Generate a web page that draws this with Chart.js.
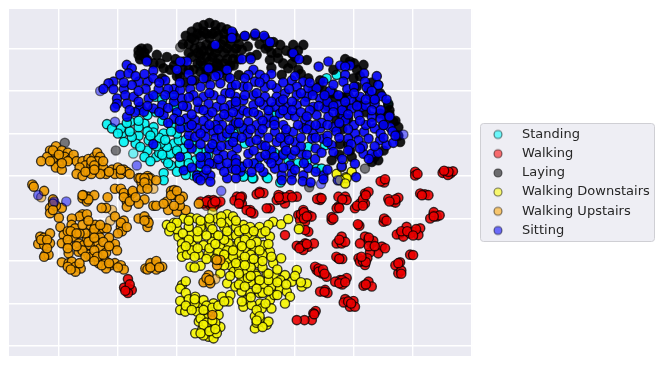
<!DOCTYPE html>
<html>
<head>
<meta charset="utf-8">
<style>body { margin: 0; background: #fff; } canvas { display: block; }</style>
<script src="https://cdn.jsdelivr.net/npm/chart.js@4"></script>
</head>
<body>
<canvas id="chart" width="664" height="365"></canvas>
<script>
var activities = ['Standing', 'Walking', 'Laying', 'Walking Downstairs', 'Walking Upstairs', 'Sitting'];
var xTicks = [-60, -40, -20, 0, 20, 40, 60, 80];
var yTicks = [60, 40, 20, 0, -20, -40, -60, -80];

var standing = [[-43.7,24.4],[-42,22.4],[-38.6,20],[-35.8,25.5],[-33,19],[-38,16],[-34,15.3],[-30,12],[-27,9],[-23.9,8],[-24.5,1.4],[-22,5],[-20,10.5],[-17,2.7],[-9.4,9.8],[-7.6,13.7],[-13.8,7.4],[-31,24.7],[-27.9,23],[-24.5,20],[-21,15.3],[-21.7,38],[-27.3,37.3],[-30,28.7],[-22.3,10.5],[-16.6,9],[-12,4.3],[-14.4,0.3],[-3,18.4],[-0.8,20],[-12,52],[-23.4,13.7],[-25.6,15.3],[-19.4,16.8],[-17.7,12.9],[-11,11.3],[-29.6,16.8],[-32.4,13.7],[-35.3,18.4],[-39,22.4],[-26,18],[-28,20.5],[-30,21],[-33,23],[-20,20],[-18,23],[-15,16],[-13,12],[-25,26],[-22,24],[-27,30],[-20,31],[-26,11],[-19,6],[1.9,22.4],[3,15.3],[11.5,31],[13.2,28.7],[16,10.5],[17.8,7.4],[24.5,13.7],[30.2,14.5],[27.3,3.5],[29,3.5],[3,0.3],[5.9,-1],[10.4,-0.5],[1.9,4.3],[34.1,47.6],[30.7,46],[48.2,42.8],[51.6,34],[11.5,12],[15,-3],[10.7,-1],[5.6,-1],[2.5,-0.3],[-24.5,-2],[-17,0.5],[-13,0],[7,6],[13,11],[21,6],[24,7],[-40,20],[-36,21],[-37,25],[-33,26],[-29,19],[-27,14],[-31,9],[-25,10],[-29,7],[-23,6],[-20,2],[-16,6],[-11,7],[-20,12],[-24,17],[-22,21],[-17,17],[-33,31],[-25,36],[-21,33],[-19,26]];

var walking = [[-37,-53.6],[-36.4,-52.9],[-37.9,-52.5],[-35.3,-53.6],[-36.6,-55],[-36.6,-48.5],[-11,-12.9],[-9.3,-11.3],[-7.6,-11.3],[-6.4,-12.9],[-8.7,-13.7],[-12,-12],[-5.3,-12],[-7.6,-14.4],[0.3,-9.7],[-0.5,-11.5],[2,-9.7],[2,-13],[1.4,-11.3],[8,-7.4],[7,-8.6],[9.3,-8],[4.8,-16],[5.9,-17.6],[3.6,-16],[11.5,-15.2],[10.4,-15.2],[15.5,-9.7],[13.8,-11.3],[16.6,-12.9],[16,-10.5],[18.3,-8.9],[20.6,-9.7],[14.4,-8.9],[22.8,-16],[21.1,-18.4],[24.5,-18.4],[21.7,-20.7],[23.4,-21.5],[25.6,-19.1],[24.5,-26.2],[23.4,-25.4],[16.6,-27.8],[20.6,-32.8],[23.4,-31.7],[24.5,-33.3],[22.8,-34.8],[26.4,-31.7],[22,-33],[28.5,-10.2],[28.5,-11.3],[27.5,-10.8],[34.7,-9.7],[37,-9.7],[37.5,-11.3],[34.7,-14.4],[34.1,-15.2],[32.4,-20.7],[32.4,-19.3],[35.8,-28.5],[34.1,-31.7],[35.8,-31.7],[37,-31],[34.7,-38.7],[34,-38],[36,-39],[40.3,-15.2],[42,-12.9],[43.7,-12.9],[43.7,-8.2],[44.9,-7.4],[41.8,-23.4],[41.3,-22.7],[50,-21.5],[50.2,-20],[50.2,-3],[49,-2.5],[53.3,-12],[51.6,-10.8],[55,-10.2],[54,-12.5],[64,-8.6],[62.4,-8.2],[65.2,-9],[66.9,-18.4],[68,-19],[65.8,-20],[67,-17],[69,-18.5],[43.7,-28.5],[46,-31.7],[44.9,-30],[42,-31.7],[46.5,-30.5],[49.4,-33.2],[48.2,-36.4],[50.5,-34],[45.4,-35.9],[41.5,-38.7],[43.7,-41.9],[42,-40.3],[44.5,-38.7],[55.6,-27],[54.5,-27.5],[56.7,-28.5],[57.8,-23.9],[60,-26.2],[62.4,-24.6],[61.8,-27.8],[59,-27],[59,-37],[60,-37.2],[55.6,-40.6],[55,-45.8],[54,-42],[56,-44.5],[27.3,-44.2],[29,-45.8],[30.7,-47.4],[26.8,-42.7],[28,-43.5],[35.2,-49],[37.5,-48],[33.6,-49.7],[36,-51],[30.2,-53.6],[28.5,-54.4],[31,-55],[43.2,-51.6],[44.9,-49.7],[46,-52],[37,-57.9],[39.8,-58.8],[38.6,-61.5],[40.3,-61.5],[36.5,-59.5],[27,-63.5],[26.2,-64.6],[25.7,-67.8],[23.2,-67.8],[20.6,-67.8],[71.4,1.9],[72.6,1.2],[70,1.5],[73.5,2.2],[71.8,0.5],[60.7,2],[60.7,0.3],[61.5,1],[50.5,-1.5],[-36,-51],[-37.5,-54],[-9,-12.5],[-10,-12],[-8,-13],[-7,-12],[1.5,-10],[1,-13],[5,-17],[8,-8],[15,-11],[17,-10],[14.5,-10],[19,-10],[22,-18],[23,-17],[23,-20],[24,-19],[22.5,-33],[21.5,-34],[24,-32],[29,-10.5],[36,-11],[35,-15],[33,-20],[35,-30],[35,-39],[41,-14],[43,-11],[44,-9],[43,-14],[51,-21],[54,-11],[52,-12],[63,-9],[67,-19],[45,-29],[45,-33],[47,-33],[43,-40],[44,-40.5],[42.5,-38],[56,-26],[58,-26],[61,-25],[60,-28],[56,-46],[55,-41],[28,-45],[29.5,-44],[30,-46],[36,-49],[35,-50.5],[37,-50],[30,-54.5],[44,-51],[38,-59],[39,-60],[26.5,-65],[72,2],[70.5,2.5]];

var laying = [[-17,66],[-15,68],[-13,70],[-11,71],[-9,72],[-7,71],[-5,70],[-3,69],[-1,67],[-16,62],[-14,64],[-12,66],[-10,67],[-8,67],[-6,66],[-4,64],[-2,62],[0,60],[-14,60],[-12,61],[-10,62],[-8,61],[-6,60],[-4,58],[-12,57],[-10,56],[-8,56],[-6,55],[-4,53],[-2,52],[-13,53],[-11,52],[-9,51],[-7,50],[-32,60],[-33,57],[-31,58],[-32.5,55],[-26.8,57],[-23.4,56],[-20.5,55],[-24.5,50.7],[-22.3,50],[-17.7,53.9],[-14.4,50],[-17,44],[-12,49],[-6.4,53],[-6.4,49],[-0.8,52],[1,47.5],[-30,54.6],[-25.6,53],[-20,47],[-10,46],[-3,47],[-14,45],[-25,46],[3,65.7],[6.4,66],[9.8,65],[12.7,63],[15,61.7],[19.4,61.7],[22.8,61.7],[14.3,55.4],[11.5,54.6],[7,57],[4.8,56],[2,59.4],[18.9,57.8],[24,54.6],[21.1,50],[17.7,50.7],[15.5,47.6],[24.5,46],[28.5,45],[38.6,53.9],[43.2,52.3],[39.8,46],[40.9,42],[44.9,40.5],[41,50],[48.8,39],[51.6,33.4],[35.2,29.4],[37.5,32.6],[33,35.7],[30.2,37.3],[48.8,29.4],[51,27.9],[53.3,25.5],[55,23],[55.6,16],[48.2,7.4],[46,6.6],[38.6,12],[35.2,15],[32.4,7.4],[39.2,9],[52,31],[50,24],[34,26],[36,22],[12,58],[10,60],[20,56],[38,38],[26,40],[41,35],[-18,62],[-16,58],[-15,56],[-13,58],[-11,59],[-9,59],[-7,58],[-5,62],[-3,60],[-1,58],[1,62],[-9,65],[-11,68],[-7,68],[-4,67],[-2,65],[0,65],[-13,67],[-15,65],[-12,54],[-9,54],[-6,52],[-3,55],[-1,55],[1,55],[-16,50],[-10,49],[-4,50],[-33,59],[-31,56],[-30,60],[-28,53],[-21,52],[-18,50],[-19,47],[4,61],[8,62],[11,61],[14,58],[17,59],[21,59],[16,53],[19,53],[12,51],[22,48],[33,50],[37,55],[40,53],[42,47],[46,44],[47,36],[44,30],[52,29],[54,26],[55,19],[47,9],[50,12],[38,15],[35,10],[28,42],[30,40],[33,39],[36,37],[31,33],[38,27]];

var downstairs = [[-23.4,-23],[-21,-22],[-22.6,-26],[-19.5,-28.5],[-17.7,-20],[-15.4,-19.6],[-13.2,-20],[-10.4,-21.5],[-8.7,-23],[-6.4,-20],[-3,-18],[-2.5,-21.5],[-5,-19],[-18.3,-31.7],[-15.4,-27.8],[-11.5,-26],[-7,-27.5],[-2.5,-28.5],[-0.2,-33],[-18.3,-34.8],[-14.9,-32.5],[-11,-32.5],[-8.1,-30.9],[-5.3,-33.3],[-2.5,-31.7],[-18.3,-38],[-16.6,-37],[-12.6,-36.9],[-9.3,-36.4],[-15.4,-42.7],[-12,-42.2],[-5.3,-45.8],[-1.9,-42],[0.9,-39.5],[-0.8,-45],[-3,-50.5],[-0.2,-52],[-18.3,-51.3],[-18.9,-53],[-17,-55],[-17,-49.5],[-18.9,-58.8],[-18.9,-63],[-16,-61.5],[-16,-58],[-13.8,-56.8],[-17.2,-63.8],[-12,-61.5],[-13.2,-63.8],[-11,-58.4],[-9.4,-63.8],[-7.6,-59.9],[-5.9,-65.4],[-4.7,-56.8],[-1.9,-56],[-2.5,-59],[-9.8,-67],[-12.6,-68.5],[-8.7,-71],[-13.8,-74],[-11.5,-72.5],[-9.3,-75.6],[-7.6,-76.4],[-5.3,-71],[-12,-67],[-14,-60],[-10,-61],[-7,-69],[-11,-75],[-6.5,-74],[2.5,-23],[4.8,-24],[8,-24],[5.3,-28.5],[11.5,-28.5],[8.7,-27],[12.6,-21.5],[15.3,-22.7],[17.7,-20.2],[21.3,-25],[11,-23],[3,-34],[6.4,-34],[9.3,-32.5],[11.5,-35.6],[15.3,-38.7],[12.6,-41],[7.6,-41],[4.8,-40.3],[2.5,-41],[10.4,-45.8],[6.4,-45.8],[3.6,-45],[1.9,-49],[7,-50.5],[12,-52],[9.3,-51.3],[16.6,-46.6],[13.2,-47.4],[18.9,-49.7],[20.6,-44.2],[22.3,-52],[24,-50.5],[4.8,-55],[1.9,-54.4],[8,-55],[14.9,-52.9],[17.2,-54.4],[18.3,-56.8],[11.5,-58.4],[16.6,-60],[3.6,-58.4],[8.1,-60],[2.5,-61.5],[5.3,-60.7],[8.7,-62.3],[12,-62.3],[6.4,-66],[8.7,-68.5],[10.4,-70],[6.4,-71.7],[11,-68.5],[7,-69],[36.4,7.4],[34.1,1],[37.3,-0.5],[39.2,2],[35.8,4.3],[37.5,-1],[35.2,-2],[37,-3.5],[-12,-24],[-8,-25],[-4,-24],[0,-24],[4,-27],[0,-28],[-4,-30],[1,-31],[-13,-29],[-16,-24],[-20,-25],[-15,-35],[-6,-36],[-3,-35],[1,-36],[5,-37],[9,-37],[-7,-39],[-3,-39],[1,-43],[5,-43],[9,-43],[3,-38],[7,-47],[11,-49],[15,-49],[5,-50],[9,-55],[13,-56],[1,-46],[4,-48],[14,-44],[-4,-42],[7,-31],[3,-30],[-1,-38],[-20,-22],[-22,-24],[-16,-21],[-12,-21],[-9,-20],[-5,-22],[-1,-19],[0,-21],[-18,-27],[-16,-30],[-13,-26],[-10,-28],[-6,-28],[-3,-26],[1,-26],[3,-25],[6,-26],[10,-26],[-17,-33],[-13,-34],[-9,-34],[-7,-32],[-4,-37],[-1,-35],[2,-33],[5,-32],[8,-35],[11,-32],[-14,-38],[-10,-39],[-14,-43],[0,-41],[3,-42],[6,-39],[9,-40],[12,-38],[-2,-47],[1,-51],[5,-47],[8,-49],[11,-46],[14,-50],[17,-51],[20,-47],[22,-50],[3,-52],[7,-53],[11,-54],[14,-56],[5,-57],[10,-60],[2,-59],[7,-63],[-17,-61],[-15,-63],[-14,-58],[-11,-63],[-8,-62],[-6,-61],[-4,-59],[-10,-69],[-8,-68],[-11,-70],[-12,-74],[-9,-73],[-7,-72],[8,-66],[9,-71],[7,-68]];

var upstairs = [[-63,12],[-61,14],[-62,10],[-59,12],[-57,11],[-64,9],[-60,8],[-58,8],[-66,7],[-62,7],[-60,5],[-58,9],[-56,8],[-55,10],[-54,7],[-61,4],[-59,3],[-52,7],[-50,8],[-48,9],[-47,11],[-46,9],[-47,7],[-51,5],[-49,5],[-53,4],[-54,1],[-52,0],[-50,2],[-47,3],[-45,4],[-44,1],[-46,1],[-49,1],[-42,3],[-40,4],[-41,1],[-39,1],[-38,3],[-37,2],[-36,1],[-33,-1],[-32,-3],[-30,0],[-29,-1],[-69,-4],[-68.5,-5],[-65,-7],[-62,-11],[-63,-15],[-63,-17.5],[-59,-15],[-61,-14],[-60,-19.6],[-52,-10.5],[-50,-9.7],[-50.5,-12],[-48,-9],[-51.7,-9],[-43.5,-10],[-44,-15],[-45.5,-15],[-41,-6],[-39,-6],[-36,-9],[-37,-12],[-38,-8],[-35,-8],[-37,-14.5],[-35,-7],[-31,-11],[-33,-13],[-32.4,-1],[-29.6,-1],[-32,-6],[-30,-3.5],[-27,-2],[-28,-14],[-27,-14],[-38,-21],[-41,-19],[-39,-24],[-38.6,-26],[-40,-27],[-33,-20],[-31,-19],[-30,-21],[-30,-24],[-29.6,-22],[-23.4,-12],[-22,-7],[-21,-6.6],[-18,-9.7],[-20,-16.8],[-23,-16],[-17,-16],[-19,-14],[-24.5,-13],[-20.5,-9],[-12.6,-13],[-52,-18],[-53,-19],[-50.5,-18],[-55.6,-20],[-59.5,-24],[-55.7,-23],[-54.5,-24.6],[-58.4,-27.8],[-59,-31.6],[-56.7,-32.5],[-55,-28.6],[-53.3,-31.7],[-56.7,-36.4],[-53.3,-35.6],[-51.6,-32.5],[-50.5,-29.3],[-49.4,-23],[-47.7,-23],[-46.5,-26],[-48.8,-27],[-51,-27],[-44.9,-24.6],[-43.8,-24.6],[-46,-29],[-47.4,-31],[-49.6,-32.5],[-50,-37],[-49,-38],[-46,-34],[-42.6,-32.5],[-41,-32],[-40.3,-35],[-66.3,-28.5],[-65,-29],[-67,-32],[-65,-32.5],[-63,-31.6],[-63,-27],[-64.6,-37],[-63.5,-37],[-65,-38],[-59,-40.6],[-56.7,-41],[-55.6,-40.3],[-54.4,-42.7],[-52.6,-43.5],[-54.4,-45],[-57,-42.7],[-46.5,-41],[-44,-40.3],[-42.6,-42],[-41,-41],[-39,-42],[-44,-43.5],[-45.5,-42],[-38,-44],[-30.7,-43.5],[-29,-41],[-27,-42],[-25,-42.7],[-27,-44],[-30,-44],[-9.8,-49],[-11,-50],[-9.3,-46.6],[-8.7,-50.5],[-6.4,-42],[-5.3,-39.5],[-6.5,-39.5],[-8,-65.4],[-53,-27],[-57,-26],[-48,-35],[-52,-35],[-44,-36],[-47,-38],[-43,-29],[-62,12],[-60,10],[-63,7],[-57,7],[-59,6],[-49,7],[-48,5],[-45,7],[-51,2],[-48,3],[-43,2],[-39,3],[-31,-1],[-50,-11],[-52,-9],[-38,-10],[-36,-12],[-34,-10],[-31,-3],[-30,-6],[-62,-13],[-62,-16],[-22,-9],[-20,-7],[-19,-11],[-21,-14],[-56,-26],[-54,-27],[-52,-23],[-50,-21],[-48,-25],[-46,-23],[-57,-30],[-54,-33],[-50,-31],[-48,-29],[-45,-31],[-43,-33],[-57,-34],[-51,-38],[-48,-40],[-45,-37],[-66,-30],[-64,-30],[-64,-34],[-56,-44],[-53,-41],[-43,-41],[-40,-43],[-29,-43],[-27,-40],[-26,-43],[-31,-21],[-39,-22],[-37,-24],[-10,-48],[-9,-49]];

var sitting = [[3,66],[6.5,67],[9.5,66],[11.5,63],[19.4,57.8],[21.4,55],[-7,61.7],[-1.4,68],[-1.4,65],[2,55],[5,55],[31.3,53.9],[-37,52.3],[-35.3,50.7],[-30.2,53.9],[-16.6,53.9],[-18.9,53.9],[-20,50],[-28,49.6],[-16,48],[-9.3,50.7],[-3,50],[-5.9,47.6],[5.9,50],[8.1,47.6],[12,48],[9.8,46],[4.2,47.6],[3,46],[6.4,44.4],[28,51.5],[35.3,52],[38.6,52],[37,51.5],[37,47.6],[43.4,48.3],[47.7,47],[-39.2,47.6],[-36.4,48.3],[-33,44.4],[-29.9,44.4],[-41.5,44.4],[-43.2,43.6],[-44.9,41],[-41.5,40.8],[-38,41],[-35.3,42.8],[-30.6,41],[-26.2,41],[-24,45],[-21,41],[-28,46],[-40.3,36.5],[-37.5,38],[-40.3,34],[-41,32.3],[-34.7,37.3],[-32.4,32.6],[-31.2,30.2],[-29.6,36.5],[-28,31.8],[-25,33.4],[-36.9,27.9],[-34.2,30],[-21,35],[-18.9,40.5],[-15.5,41],[-12,42],[-8.7,42.8],[-5.3,43.6],[-1.4,42],[-18.3,36.5],[-14.4,38],[-11,37.3],[-7.6,38],[-3.6,38.9],[-0.2,37.3],[-20,30],[-16.6,32.6],[-12.6,31.8],[-9.3,34],[-6.4,32.6],[-1.9,33.4],[-24.5,28.7],[-21,27],[-17,27],[-13.8,26.3],[-9.3,28.7],[-5.9,27],[-2.5,27.9],[1,28.7],[-18.9,22.4],[-16,19.2],[-13.2,22.4],[-10.4,22.4],[-7.6,20.8],[-4.7,24],[-0.8,24],[-13.8,18.4],[-10.4,18.4],[-7,17.6],[-4.7,18.4],[-0.2,18.4],[-2.5,14.5],[0.3,13],[-6.4,12],[-4.2,9.8],[-1.4,9.8],[-7.6,5.8],[-5.3,5],[-1.4,3.5],[-12,5.8],[-8.7,0.3],[-17.7,2.7],[-13.2,0.3],[-11,0.3],[-28,15],[1.5,2],[2.5,42],[9.8,41.7],[13.8,41.3],[18.9,45],[22.8,44.4],[20.6,42],[24.5,41.3],[27.3,41.3],[29.6,44.4],[31.9,40],[36.4,44.4],[37.7,41],[43.7,44.4],[44.3,41.7],[48.2,42.8],[5.9,38],[9.8,37.3],[13.8,37.3],[16.6,38.9],[20.6,38],[24,37.3],[28.5,36.5],[34.7,38],[42,37.3],[45.4,38],[49.4,37.6],[2.5,35.7],[2.5,31],[5.9,33.4],[9.3,33.4],[13.2,32.6],[17.2,32.6],[20.6,33.4],[23.4,35],[26.2,32.6],[30.2,31.8],[34.7,33.4],[39.2,31.8],[42.6,32.6],[47,34],[4.2,25.5],[7.6,28.7],[14.9,29.4],[17.8,28.7],[23.4,26.6],[27.3,28.7],[31.3,27.9],[36.4,27.9],[41.5,28.7],[46,27.9],[2.5,22.4],[10.4,24.7],[13.2,20.8],[16.6,19.2],[19.4,20.8],[22.8,22.4],[26.2,20],[28.5,22.4],[33,23],[37,26.3],[40.3,20],[43.4,20.8],[47,22.4],[52.2,23],[53,21],[4.8,16],[8.7,14.5],[13.8,16],[16.6,14.5],[20,16],[25.7,17.6],[29.4,17.6],[32.4,14.5],[38,17.6],[41.5,16.8],[44.9,17.6],[48.8,16.8],[51,14.5],[53.3,15.6],[4.2,10.5],[8.1,9],[11,8],[14.3,7.4],[18.9,9.8],[22.2,10.5],[26.8,8],[33,11.3],[43.2,10.5],[46,10.5],[48.2,10.9],[2,4.3],[5.3,1.9],[9.3,1.9],[13.2,3.5],[15.5,0.3],[18.3,5],[18.9,1],[22.8,0.3],[24.5,3.8],[29.6,0.3],[40.3,5.8],[35.8,4.6],[40.7,-0.5],[15.5,-2],[18.9,-2],[22.6,-2.5],[25.3,-3],[29.6,-1.5],[-8.7,-2.7],[-3,-1],[0,-1],[-13,-1],[-12,-2],[7,24],[11,28],[0,25],[4,20],[8,20],[11,18],[0,8],[6,6],[12,12],[16,24],[20,28],[25,24],[31,19],[34,21],[36,31],[40,24],[44,24],[49,20],[22,14],[27,13],[16,10],[-9,13],[-10,9],[-15,13],[-19,9],[-4,32],[0,33],[-16,23],[-7,24],[-11,26],[-3,20],[4,30],[25,31],[29,25],[39,36],[44,33],[49,31],[31,35],[15,35],[11,31],[7,39],[18,41],[-38,44],[-34,47],[-31,48],[-26,44],[-23,41],[-19,44],[-15,45],[-11,46],[-7,47],[-2,46],[0,43],[-33,40],[-28,38],[-24,38],[-21,38],[-16,37],[-13,35],[-9,39],[-5,36],[-2,39],[0,35],[-37,34],[-36,31],[-33,35],[-30,33],[-26,30],[-23,32],[-18,33],[-15,29],[-11,31],[-8,30],[-4,29],[-1,30],[-23,25],[-19,26],[-15,24],[-12,20],[-9,24],[-6,22],[-2,22],[1,25],[-16,15],[-12,15],[-8,15],[-5,14],[-1,16],[2,18],[-12,9],[-9,6],[-6,8],[-3,6],[0,6],[-15,4],[-10,3],[-4,2],[0,3],[4,42],[8,44],[12,43],[16,44],[20,47],[25,44],[33,43],[40,42],[46,40],[3,38],[8,35],[12,35],[16,36],[19,35],[22,39],[26,38],[30,38],[33,33],[37,35],[40,39],[44,36],[47,36],[51,36],[6,30],[9,26],[13,26],[16,31],[19,31],[22,30],[24,28],[28,33],[33,30],[38,29],[41,33],[46,31],[49,27],[52,28],[5,22],[9,22],[13,24],[17,22],[21,24],[24,22],[27,24],[31,24],[35,25],[38,22],[42,26],[46,25],[50,24],[54,19],[7,17],[10,14],[15,18],[18,17],[22,18],[27,18],[31,16],[35,18],[39,15],[43,14],[47,14],[50,18],[6,12],[10,10],[13,9],[17,12],[20,12],[24,10],[29,11],[38,12],[42,13],[45,8],[4,6],[8,4],[12,6],[16,4],[20,3],[23,6],[27,2],[31,3],[36,8]];

// strays that sit alone in the picture and show the marker's real paleness
var standingFaint = [[-34.8,10.6]];
var walkingFaint = [[47,-33],[-10,-14]];
var layingFaint = [[-18.9,60.6],[-40.7,12],[-58,15.6],[24.8,-5.3],[43.7,3.5],[34.5,-2]];
var downstairsFaint = [[-8,-17],[21.5,-24]];
var upstairsFaint = [[-66,-10],[-42.6,-21],[-7,-48.5],[-42,-16],[-28,-6]];
var sittingFaint = [[-5,-7],[28.8,-3.7],[-67,-9],[-61.6,-12],[-57.5,-12],[56.7,19.5],[-33.6,5],[-46,40],[-41,25.5],[34.5,-2]];

var scatterData = [standing, walking, laying, downstairs, upstairs, sitting];
var faintData = [standingFaint, walkingFaint, layingFaint, downstairsFaint, upstairsFaint, sittingFaint];
var pointColors = ['0,245,245', '235,0,0', '0,0,0', '245,245,0', '240,155,0', '0,0,245'];
var legendColors = ['0,255,255', '255,0,0', '0,0,0', '255,255,0', '255,165,0', '0,0,255'];

function toPoints(pairs) {
  return pairs.map(function (p) { return { x: p[0], y: p[1] }; });
}

// little round marker for the legend, the point style box would squash it
function legendMarker(rgb) {
  var c = document.createElement('canvas');
  c.width = 12;
  c.height = 12;
  var g = c.getContext('2d');
  g.beginPath();
  g.arc(6, 6, 4, 0, Math.PI * 2);
  g.fillStyle = 'rgba(' + rgb + ',0.55)';
  g.fill();
  g.lineWidth = 1.1;
  g.strokeStyle = 'rgba(0,0,0,0.55)';
  g.stroke();
  return c;
}

function makeDataset(name, pairs, i, fill, edge) {
  return {
    label: name,
    data: toPoints(pairs),
    order: activities.length - i,
    pointRadius: 4.6,
    pointBorderWidth: 1.4,
    pointBackgroundColor: 'rgba(' + pointColors[i] + ',' + fill + ')',
    pointBorderColor: 'rgba(0,0,0,' + edge + ')'
  };
}

var datasets = [];
activities.forEach(function (name, i) {
  datasets.push(makeDataset(name, scatterData[i], i, 0.9, 0.75));
  datasets.push(makeDataset(name, faintData[i], i, 0.5, 0.5));
});

var plotBackground = {
  id: 'plotBackground',
  // the layout caps a side legend at a quarter of the width, so widen it by hand
  afterLayout: function (chart) {
    chart.legend.left = 474.3;
    chart.legend.right = 664;
  },
  beforeDraw: function (chart) {
    var ctx = chart.ctx, a = chart.chartArea;
    ctx.save();
    ctx.fillStyle = '#EAEAF2';
    ctx.fillRect(a.left, a.top, a.right - a.left, a.bottom - a.top);
    ctx.beginPath();
    ctx.roundRect(480.5, 123.5, 174, 118, 3);
    ctx.fillStyle = '#EEEEF4';
    ctx.fill();
    ctx.strokeStyle = '#CFCFD4';
    ctx.lineWidth = 1;
    ctx.stroke();
    ctx.restore();
  }
};

var chart = new Chart(document.getElementById('chart'), {
  type: 'scatter',
  data: { datasets: datasets },
  options: {
    responsive: false,
    animation: false,
    layout: { padding: { left: 9, top: 9, bottom: 9, right: 37.5 } },
    plugins: {
      tooltip: { enabled: false },
      legend: {
        position: 'right',
        labels: {
          usePointStyle: true,
          pointStyleWidth: 35,
          padding: 6.2,
          color: '#262626',
          font: { family: 'DejaVu Sans', size: 13 },
          generateLabels: function () {
            return activities.map(function (name, i) {
              return { text: name, pointStyle: legendMarker(legendColors[i]), datasetIndex: i * 2, fontColor: '#262626' };
            });
          }
        }
      }
    },
    scales: {
      x: {
        type: 'linear',
        min: -76.9,
        max: 80,
        afterBuildTicks: function (s) { s.ticks = xTicks.map(function (v) { return { value: v }; }); },
        ticks: { display: false },
        border: { display: false },
        grid: { color: '#FFFFFF', lineWidth: 1.4, drawTicks: false }
      },
      y: {
        type: 'linear',
        min: -84.7,
        max: 78.6,
        afterBuildTicks: function (s) { s.ticks = yTicks.map(function (v) { return { value: v }; }); },
        ticks: { display: false },
        border: { display: false },
        grid: { color: '#FFFFFF', lineWidth: 1.4, drawTicks: false }
      }
    }
  },
  plugins: [plotBackground]
});
</script>
</body>
</html>
